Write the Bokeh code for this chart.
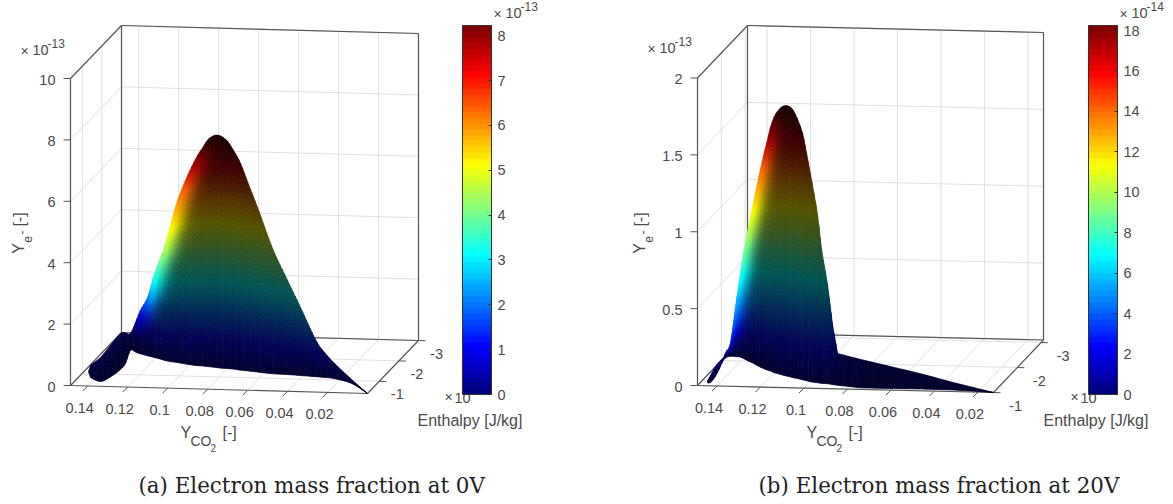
import math
import numpy as np
from bokeh.plotting import figure
from bokeh.models import Range1d, ColorBar, LinearColorMapper, FixedTicker, ColumnDataSource
from bokeh.core.properties import value
from bokeh.embed import file_html
from bokeh.resources import INLINE

# ---- data (Y_CO2 [-], enthalpy [1e6 J/kg], Y_e- [1e-13]) ----
a_top_Y = [.142,.1436,.1438,.1439,.1453,.1428,.1403,.1365,.132,.1244,.1132,.1076,.1034,.0994,.0958,.0908,.0858,.0833,.0808,.0783,.0763,.0738,.0708,.0678,.0643,.0603,.0558,.0483,.0408,.0343,.0278,.0243,.0178,.0093,0.0]
a_top_h = [-.66,-.92,-1.44,-1.96,-2.61,-2.61,-2.61,-2.48,-2.27,-1.86,-1.02,-.71,-.53,-.48,-.48,-.48,-.48,-.48,-.48,-.48,-.48,-.48,-.48,-.48,-.48,-.48,-.48,-.48,-.48,-.48,-.48,-.48,-.48,-.48,-.4]
a_top_z = [.33,.32,.23,.28,.23,.25,.24,.69,1.23,1.94,3.17,3.87,4.39,5.25,6.07,6.89,7.55,7.80,8.06,8.19,8.23,8.19,8.04,7.74,7.33,6.65,5.91,4.59,3.56,2.69,1.79,1.40,.93,.42,0.0]
a_bot_Y = [.1451,.1419,.1351,.1324,.131,.1315,.1352,.1319,.1286,.1244,.1206,.1176,.1144,.1104,.1064,.1008,.0953,.0926,.0899,.0873,.0851,.0825,.0793,.0761,.0722,.0679,.063,.055,.0473,.0405,.0336,.03,.0229,.0122,0.0]
a_bot_h = [-.97,-.74,-.56,-.79,-1.15,-1.47,-2.09,-2.01,-1.93,-1.85,-1.78,-1.73,-1.66,-1.6,-1.56,-1.49,-1.44,-1.43,-1.41,-1.39,-1.37,-1.35,-1.34,-1.32,-1.28,-1.25,-1.21,-1.15,-1.13,-1.1,-1.07,-1.05,-1.0,-.82,-.4]
a_bot_z = [.05]*33 + [.03, 0.0]

b_top_Y = [.1451,.1437,.1414,.1391,.1377,.1363,.1345,.1322,.1299,.1281,.1262,.1244,.1221,.1198,.1179,.1161,.1143,.1129,.111,.1092,.1074,.1055,.1032,.1014,.0995,.0977,.0945,.0926,.0899,.0876,.0931,.0848,.0683,.0518,.0331,.0222,.0128]
b_top_h = [-1.06]*30 + [-1.78,-1.99,-1.74,-1.49,-1.17,-1.1,-1.0]
b_top_z = [.023,.057,.116,.155,.176,.221,.267,.503,.725,.888,1.025,1.156,1.313,1.463,1.574,1.679,1.751,1.784,1.814,1.824,1.818,1.792,1.722,1.651,1.521,1.385,1.126,.899,.673,.414,.1,.03,.03,.03,.03,.01,0.0]
b_bot_Y = [.1449,.1438,.1442,.1462,.1475,.1474,.146,.1437,.1412,.1386,.1358,.1334,.1298,.1265,.1241,.1216,.1192,.1174,.1152,.1129,.1107,.1085,.1059,.1036,.1014,.0991,.0955,.0936,.0907,.088,.0855,.074,.0602,.0464,.0312,.0211,.0128]
b_bot_h = [-1.05,-1.07,-1.32,-1.71,-1.95,-2.07,-2.11,-2.11,-2.09,-2.02,-1.94,-1.88,-1.77,-1.68,-1.62,-1.57,-1.51,-1.48,-1.44,-1.4,-1.37,-1.33,-1.3,-1.26,-1.23,-1.19,-1.16,-1.14,-1.13,-1.1,-1.08,-1.0,-1.0,-1.01,-1.0,-1.0,-1.0]
b_bot_z = [.01]*35 + [.005, 0.0]

y_ticks = [0.14, 0.12, 0.1, 0.08, 0.06, 0.04, 0.02]
y_tick_labels = ["0.14", "0.12", "0.1", "0.08", "0.06", "0.04", "0.02"]
h_ticks = [-1, -2, -3]
a_z_ticks = [0, 2, 4, 6, 8, 10]
a_z_labels = ["0", "2", "4", "6", "8", "10"]
b_z_ticks = [0, 0.5, 1, 1.5, 2]
b_z_labels = ["0", "0.5", "1", "1.5", "2"]
a_cb_ticks = [0, 1, 2, 3, 4, 5, 6, 7, 8]
b_cb_ticks = [0, 2, 4, 6, 8, 10, 12, 14, 16, 18]
caption_a = "(a) Electron mass fraction at 0V"
caption_b = "(b) Electron mass fraction at 20V"

TEXT = "#4a4a4a"
AXIS = "#555555"
GRID = "#e0e0e0"
SANS = "Liberation Sans"
SERIF = "DejaVu Serif"
FIG_H = 502

p = figure(width=1165, height=FIG_H, x_range=Range1d(0, 1165), y_range=Range1d(FIG_H, 0),
           output_backend="svg", toolbar_location=None, min_border=0)
p.xaxis.visible = False
p.yaxis.visible = False
p.grid.visible = False
p.outline_line_color = None


def t(x, y, s, size=14.5, align="center", base="middle", angle=0.0, color=TEXT, font=SANS):
    p.text([x], [y], text=[s], text_font=value(font), text_font_size=value(f"{size}px"),
           text_align=align, text_baseline=base, angle=angle, text_color=color)


def jet(v):
    v = np.clip(v, 0, 1)
    r = np.clip(np.minimum(4 * v - 1.5, -4 * v + 4.5), 0, 1)
    g = np.clip(np.minimum(4 * v - 0.5, -4 * v + 3.5), 0, 1)
    b = np.clip(np.minimum(4 * v + 0.5, -4 * v + 2.5), 0, 1)
    return np.stack([r, g, b], axis=-1)


def jet_palette(n):
    c = (jet(np.linspace(0, 1, n)) * 255).round().astype(int)
    return ["#%02x%02x%02x" % tuple(k) for k in c]


def smooth(arr, i, a, last):
    """Catmull-Rom position between stations i and i+1 of an edge curve; straight past `last`."""
    if i >= last:
        return arr[i] + a * (arr[i + 1] - arr[i])
    p0, p1, p2, p3 = arr[max(i - 1, 0)], arr[i], arr[i + 1], arr[min(i + 2, last)]
    return 0.5 * (2 * p1 + (p2 - p0) * a + (2 * p0 - 5 * p1 + 4 * p2 - p3) * a * a
                  + (3 * p1 - p0 - 3 * p2 + p3) * a * a * a)


def panel(cfg):
    def proj(Y, h, z):
        Y, h, z = np.asarray(Y, float), np.asarray(h, float), np.asarray(z, float)
        u = (cfg["Ymax"] - Y) / (cfg["Ymax"] - cfg["Ymin"])
        v = (cfg["hf"] - h) / (cfg["hf"] - cfg["hb"])
        sx = cfg["ox"] + cfg["ux"] * u + cfg["vx"] * v
        sy = cfg["oy"] + cfg["uy"] * u + cfg["vy"] * v - cfg["zs"] * z
        return sx, sy

    Ymax, Ymin, hf, hb, zt = cfg["Ymax"], cfg["Ymin"], cfg["hf"], cfg["hb"], cfg["ztop"]

    def seg(a, b, color, w=1.0):
        xa, ya = proj(*a)
        xb, yb = proj(*b)
        p.line([float(xa), float(xb)], [float(ya), float(yb)], line_color=color, line_width=w)

    # grid: floor, back wall, left wall
    for Y in cfg["yt"]:
        seg((Y, hf, 0), (Y, hb, 0), GRID)
        seg((Y, hb, 0), (Y, hb, zt), GRID)
    for h in h_ticks:
        seg((Ymin, h, 0), (Ymax, h, 0), GRID)
        seg((Ymax, h, 0), (Ymax, h, zt), GRID)
    for z in cfg["zt"]:
        seg((Ymax, hf, z), (Ymax, hb, z), GRID)
        seg((Ymax, hb, z), (Ymin, hb, z), GRID)

    # box behind the surface
    for a, b in [((Ymax, hf, zt), (Ymax, hb, zt)), ((Ymax, hb, zt), (Ymin, hb, zt)),
                 ((Ymax, hb, zt), (Ymax, hb, 0)), ((Ymin, hb, zt), (Ymin, hb, 0)),
                 ((Ymax, hb, 0), (Ymin, hb, 0)), ((Ymax, hf, 0), (Ymax, hf, zt)),
                 ((Ymax, hf, 0), (Ymin, hf, 0)), ((Ymin, hf, 0), (Ymin, hb, 0)),
                 ((Ymax, hf, 0), (Ymax, hb, 0))]:
        seg(a, b, AXIS, 1.2)

    # axis ticks
    for Y in cfg["yt"]:
        x0, y0 = proj(Y, hf, 0)
        p.line([float(x0), float(x0) - 5], [float(y0), float(y0) + 5], line_color=AXIS)
    for h in h_ticks:
        x0, y0 = proj(Ymin, h, 0)
        p.line([float(x0), float(x0) + 7], [float(y0), float(y0) + .2], line_color=AXIS)
    for z in cfg["zt"]:
        x0, y0 = proj(Ymax, hf, z)
        p.line([float(x0) - 7, float(x0)], [float(y0), float(y0)], line_color=AXIS)

    # surface, from the read edge curves
    tY, th, tz = [np.array(cfg[k], float) for k in ("tY", "th", "tz")]
    bY, bh, bz = [np.array(cfg[k], float) for k in ("bY", "bh", "bz")]
    zmax = tz.max()
    sxt, syt = proj(tY, th, tz)
    ipk = int(np.argmax(tz))
    ly = np.maximum.accumulate(syt[:ipk + 1][::-1])
    lx = sxt[:ipk + 1][::-1]
    xs, ys, cols = [], [], []
    sxb, syb = proj(bY, bh, bz)
    n = len(tY)
    last = cfg["last"]
    for i in range(n - 1):
        ns = max(1, math.ceil((sxt[i + 1] - sxt[i]) / 2.0))
        h_px = max(syb[i] - syt[i], syb[i + 1] - syt[i + 1])
        m = max(2, math.ceil(h_px / 5))
        for j in range(ns):
            a0, a1 = j / ns, (j + 1) / ns
            for k in range(m):
                b0, b1 = k / m, (k + 1) / m
                pts = []
                for a_, b_ in ((a0, b0), (a1, b0), (a1, b1), (a0, b1)):
                    Yt, ht, zt_ = smooth(tY, i, a_, last), smooth(th, i, a_, last), smooth(tz, i, a_, last)
                    Yb, hb_, zb = smooth(bY, i, a_, last), smooth(bh, i, a_, last), smooth(bz, i, a_, last)
                    pts.append((Yb + b_ * (Yt - Yb), hb_ + b_ * (ht - hb_), zb + b_ * (zt_ - zb)))
                pts = np.array(pts)
                sx, sy = proj(pts[:, 0], pts[:, 1], pts[:, 2])
                zc = pts[:, 2].mean()
                d = sx.mean() - np.interp(sy.mean(), ly, lx)
                amp = np.clip(zc / (.2 * zmax), 0, 1) * np.clip((zmax - zc) / (.22 * zmax), 0, 1)
                base = cfg["base"] * (1 - .55 * np.clip((zc - .72 * zmax) / (.28 * zmax), 0, 1))
                light = base + (1 - base) * amp * math.exp(-(max(d, 0) / cfg["w"]) ** 2)
                c = (jet(zc / cfg["cmax"]) * light * 255).round().astype(int)
                xs.append(sx.tolist())
                ys.append(sy.tolist())
                cols.append("#%02x%02x%02x" % tuple(c))
    src = ColumnDataSource(dict(xs=xs, ys=ys, c=cols))
    p.patches("xs", "ys", source=src, fill_color="c", line_color="c", line_width=0.7)

    # tick labels
    for Y, lab in zip(cfg["yt"], y_tick_labels):
        x0, y0 = proj(Y, hf, 0)
        t(float(x0) - 8, float(y0) + 22, lab)
    for h in h_ticks:
        x0, y0 = proj(Ymin, h, 0)
        t(float(x0) + cfg["hdx"], float(y0) + 13, str(h))
    for z, lab in zip(cfg["zt"], cfg["zl"]):
        x0, y0 = proj(Ymax, hf, z)
        t(float(x0) - 15, float(y0) + 1, lab, align="right")

    # offset labels
    def sci(x, y, exp):
        t(x, y + 1, "\u00d7", size=14, align="left")
        t(x + 12, y, "10", align="left")
        t(x + 27, y - 6, exp, size=12, align="left")

    ax = cfg["ox"]
    sci(ax - 50, cfg["zsy"], "-13")
    sci(cfg["cbx"] + 31, 12, cfg["cbexp"])
    t(cfg["cbx"] - 18, 396, "\u00d7", size=14, align="left")
    t(cfg["cbx"] - 8, 397, "10", align="left")

    # axis titles
    tx = cfg["tx"]
    t(tx, 432, "Y", size=16, align="left")
    t(tx + 10, 440, "CO", size=14, align="left")
    t(tx + 30, 447, "2", size=10, align="left")
    t(tx + 42, 432, "[-]", size=16, align="left")
    t(cfg["cbx"] - 45, 420, "Enthalpy [J/kg]", size=16, align="left")
    lx0 = cfg["lx"]
    t(lx0, 248, "Y", size=16, angle=math.pi / 2)
    t(lx0 + 9, 239, "e", size=12, angle=math.pi / 2)
    t(lx0 + 3, 232, "-", size=12, angle=math.pi / 2)
    t(lx0 + 1, 219, "[-]", size=16, angle=math.pi / 2)

    t(cfg["capx"], 485, cfg["cap"], size=cfg["capsize"], color="#222222", font=SERIF, align="left")

    # colour bar
    mapper = LinearColorMapper(palette=jet_palette(64), low=0, high=cfg["cbhigh"])
    cb = ColorBar(color_mapper=mapper, ticker=FixedTicker(ticks=cfg["cbt"]), width=29, height=369,
                  location=(cfg["cbx"], FIG_H - 394), padding=0, margin=0,
                  bar_line_color="#333333", major_tick_line_color="#333333", major_tick_in=3,
                  major_tick_out=0, minor_tick_line_color=None, label_standoff=6,
                  major_label_text_font=SANS, major_label_text_font_size="14.5px",
                  major_label_text_color=TEXT, background_fill_color=None, border_line_color=None)
    p.add_layout(cb, "center")


panel(dict(Ymax=.1486, Ymin=0.0, hf=-.4, hb=-3.0, ox=70, oy=385, ux=297, uy=8, vx=51, vy=-53, zs=30.7,
           ztop=10, yt=y_ticks, zt=a_z_ticks, zl=a_z_labels, tY=a_top_Y, th=a_top_h, tz=a_top_z,
           bY=a_bot_Y, bh=a_bot_h, bz=a_bot_z, cmax=8.23, cbhigh=8.23, cbt=a_cb_ticks, cbx=462, cbexp="-13",
           base=.33, w=13, hdx=18, zsy=49, tx=180, lx=18, capx=138, cap=caption_a, capsize=21.4,
           last=len(a_top_Y) - 1))
# panel (b): heights are in 1e-13, its colour bar in 1e-14
panel(dict(Ymax=.149, Ymin=.0128, hf=-1.0, hb=-3.1, ox=697, oy=385, ux=296, uy=7, vx=50, vy=-52.5, zs=153.75,
           ztop=2, yt=y_ticks, zt=b_z_ticks, zl=b_z_labels, tY=b_top_Y, th=b_top_h,
           tz=b_top_z, bY=b_bot_Y, bh=b_bot_h, bz=b_bot_z, cmax=1.825, cbhigh=18.25, cbt=b_cb_ticks,
           cbx=1088, cbexp="-14", base=.33, w=11, hdx=22, zsy=47, tx=806, lx=639, capx=758,
           cap=caption_b, capsize=21.4, last=29))

open("out.html", "w").write(file_html(p, INLINE))
